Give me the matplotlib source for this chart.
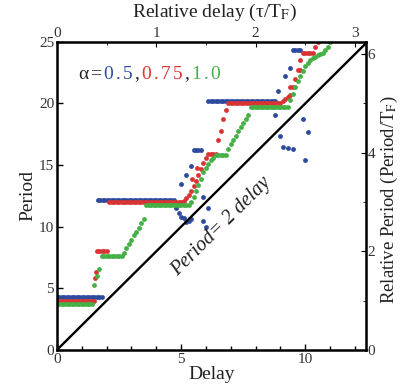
import numpy as np
import matplotlib
matplotlib.use('Agg')
import matplotlib.pyplot as plt
from matplotlib.ticker import FixedLocator

plt.rcParams['font.family'] = ['Liberation Serif', 'DejaVu Serif']
plt.rcParams['mathtext.fontset'] = 'stix'

# 数据：延迟采样网格（步长0.1），各α的周期值（超出范围为空）
T_F = 4.0
delay = np.round(np.arange(125) * 0.1, 1)

period_05 = ([4.3] * 19 + [12.2] * 29
             + [11.5, 11.1, 10.8, 10.7, 10.4, 10.5, 10.6]
             + [16.2] * 4 + [12.4, 10.0]
             + [20.2] * 28
             + [21.0, 17.4, 16.5, 22.2, 16.4, 22.9]
             + [24.3] * 4 + [18.7, 15.4, 17.7])
period_075 = ([4.0] * 16 + [8.0] * 5 + [12.0] * 30
              + [12.1, 12.3, 12.6, 12.9, 13.3, 13.7, 14.2, 14.7, 15.2, 15.6]
              + [15.9] * 4 + [17.0, 17.8, 18.7, 19.5]
              + [20.0] * 22
              + [20.2, 20.4, 20.5, 20.7, 21.3, 22.0, 22.7, 23.5]
              + [24.1] * 5 + [24.6, 25.0])
period_10 = ([3.75] * 15 + [5.3, 6.0, 6.6] + [7.6] * 9
             + [7.9, 8.3, 8.6, 8.9, 9.3, 9.6, 9.9, 10.3, 10.6]
             + [11.8] * 18
             + [12.0, 12.4, 12.9, 13.4, 13.9, 14.4, 14.8, 15.1, 15.4, 15.6]
             + [15.8] * 5
             + [16.3, 16.7, 17.0, 17.4, 17.8, 18.1, 18.4, 18.7, 19.1]
             + [19.7] * 16
             + [20.3, 20.8, 21.3, 21.8, 22.2, 22.6, 23.0, 23.3, 23.5, 23.7,
                23.8, 23.9, 24.0, 24.1, 24.3, 24.6, 25.0])

# 多解区域的额外点
extra_delay_05 = [1.65, 1.75, 1.85, 5.0, 5.2, 5.4, 5.9, 6.1, 8.8, 9.5]
extra_period_05 = [12.2, 12.2, 12.2, 13.5, 14.2, 14.9, 10.5, 11.5, 19.1, 16.3]
extra_delay_075 = [1.55, 1.58, 5.45, 5.65, 9.4, 9.8]
extra_period_075 = [5.8, 6.3, 13.9, 14.8, 21.3, 22.7]

# 刻度
delay_ticks = [0, 5, 10]
delay_minor = list(range(13))
period_ticks = [0, 5, 10, 15, 20, 25]
rel_delay_ticks = [0, 1, 2, 3]
rel_delay_minor = [0.5, 1.5, 2.5]
rel_period_ticks = [0, 2, 4, 6]
rel_period_minor = [1, 3, 5]

colors = {'0.5': '#2d4a9e', '0.75': '#d93434', '1.0': '#45b045'}
text_color = '#222222'


def pad(values):
    return np.array(values + [np.nan] * (len(delay) - len(values)))


fig = plt.figure(figsize=(4.01, 3.91), dpi=100)
ax = fig.add_axes([0.142, 0.105, 0.771, 0.788])

dot = dict(s=12, linewidths=0, marker='o')
ax.scatter(delay, pad(period_05), color=colors['0.5'], **dot)
ax.scatter(extra_delay_05, extra_period_05, color=colors['0.5'], **dot)
ax.scatter(delay, pad(period_075), color=colors['0.75'], **dot)
ax.scatter(extra_delay_075, extra_period_075, color=colors['0.75'], **dot)
ax.scatter(delay, pad(period_10), color=colors['1.0'], **dot)

# Period = 2 delay 参考线
ax.plot([0, 12.5], [0, 25], color='black', lw=1.7)
ax.text(6.6, 10.0, 'Period= 2 delay', rotation=44.8, rotation_mode='anchor',
        ha='center', va='center', style='italic', fontsize=14.5, color=text_color)

ax.set_xlim(0, 12.45)
ax.set_ylim(0, 25)
ax.xaxis.set_major_locator(FixedLocator(delay_ticks))
ax.xaxis.set_minor_locator(FixedLocator(delay_minor))
ax.yaxis.set_major_locator(FixedLocator(period_ticks))
ax.tick_params(direction='in', which='both', labelsize=11, labelcolor='#333333',
               width=1, pad=2)
ax.tick_params(which='major', length=4)
ax.tick_params(which='minor', length=3)
for s in ax.spines.values():
    s.set_linewidth(1.8)

ax.set_xlabel('Delay', fontsize=14, color=text_color, labelpad=0)
ax.set_ylabel('Period', fontsize=14, color=text_color, labelpad=2)

secx = ax.secondary_xaxis('top', functions=(lambda d: d / T_F, lambda t: t * T_F))
secx.xaxis.set_major_locator(FixedLocator(rel_delay_ticks))
secx.xaxis.set_minor_locator(FixedLocator(rel_delay_minor))
secx.tick_params(direction='in', which='both', labelsize=11, labelcolor='#333333', pad=1)

secy = ax.secondary_yaxis('right', functions=(lambda p: p / T_F, lambda r: r * T_F))
secy.yaxis.set_major_locator(FixedLocator(rel_period_ticks))
secy.yaxis.set_minor_locator(FixedLocator(rel_period_minor))
secy.tick_params(direction='in', which='both', labelsize=11, labelcolor='#333333', pad=1)

# 上方和右侧轴标题
fig.text(0.535, 0.995, 'Relative delay (τ/T$_\\mathrm{F}$)', ha='center', va='top',
         fontsize=14, color=text_color)
fig.text(0.998, 0.49, 'Relative Period (Period/T$_\\mathrm{F}$)', ha='right', va='center',
         rotation=90, fontsize=13.5, color=text_color)

# α 图例文字，逐字着色
legend_chars = [('α', text_color), ('=', text_color),
                ('0', colors['0.5']), ('.', colors['0.5']), ('5', colors['0.5']),
                (',', text_color),
                ('0', colors['0.75']), ('.', colors['0.75']), ('7', colors['0.75']), ('5', colors['0.75']),
                (',', text_color),
                ('1', colors['1.0']), ('.', colors['1.0']), ('0', colors['1.0'])]
t = ax.text(0.85, 21.7, legend_chars[0][0], color=legend_chars[0][1], fontsize=14, va='bottom')
for ch, c in legend_chars[1:]:
    t = ax.annotate(ch, xy=(1, 0), xycoords=t, xytext=(1.6, 0), textcoords='offset points',
                    color=c, fontsize=14, va='bottom')

plt.savefig('out.png', dpi=100)
